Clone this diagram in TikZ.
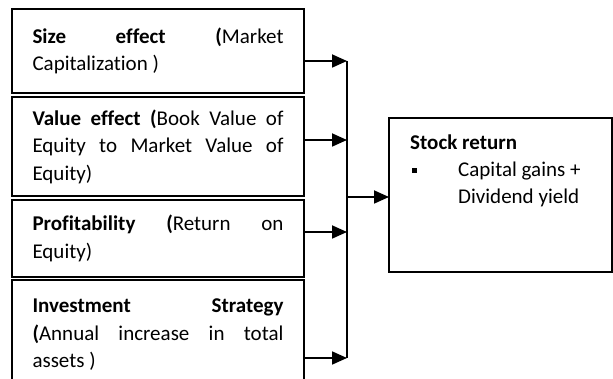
\documentclass[tikz,border=0pt]{standalone}
\usepackage{fontspec}
\setmainfont{Carlito}[Ligatures=NoCommon]
\usetikzlibrary{positioning,arrows.meta}
\hyphenpenalty=10000

\tikzset{
  factor/.style={draw, line width=1.8pt, outer sep=0pt, text width=251pt,
    align=justify, inner xsep=20.5pt, inner ysep=0pt, minimum width=292pt,
    font=\fontsize{21}{27.5}\selectfont},
  link/.style={line width=1.8pt, -{Triangle[length=15pt,width=13pt]}}
}

\begin{document}
\begin{tikzpicture}[x=1pt,y=-1pt]

  \useasboundingbox (0,0) rectangle (613,379);

  \node (size) [factor, minimum height=84pt, anchor=north west] at (12,9)
    {\textbf{Size effect (}Market\linebreak Capitalization )};
  \node (value) [factor, minimum height=99pt, below=4pt of size.south west, anchor=north west]
    {\textbf{Value effect (}Book Value of\linebreak Equity to Market Value of\linebreak Equity)};
  \node (profit) [factor, minimum height=77pt, below=4pt of value.south west, anchor=north west]
    {\textbf{Profitability (}Return on\linebreak Equity)};
  \node (invest) [factor, minimum height=110pt, below=3pt of profit.south west, anchor=north west]
    {\textbf{Investment Strategy}\linebreak \textbf{(}Annual increase in total\linebreak assets )};

  \node (stock) [draw, line width=1.8pt, outer sep=0pt, minimum width=223pt,
    minimum height=154pt, anchor=north west] at (389,118) {};
  \node (stocktxt) [anchor=north west, inner sep=0pt, align=left,
    font=\fontsize{21}{27}\selectfont] at (410,135)
    {\textbf{Stock return}\\
     \makebox[48pt][l]{\hspace{2pt}\rule[4pt]{5pt}{5pt}}Capital gains +\\
     \hspace*{48pt}Dividend yield};

  \coordinate (b1) at (347,61);
  \coordinate (b2) at (347,140);
  \coordinate (b3) at (347,232);
  \coordinate (b4) at (347,358);
  \coordinate (bmid) at (347,197);

  \draw [line width=1.8pt] (b1) -- (b4);
  \draw [link] (size.east |- b1) -- (b1);
  \draw [link] (value.east |- b2) -- (b2);
  \draw [link] (profit.east |- b3) -- (b3);
  \draw [link] (invest.east |- b4) -- (b4);
  \draw [link] (bmid) -- (stock.west |- bmid);

\end{tikzpicture}
\end{document}
